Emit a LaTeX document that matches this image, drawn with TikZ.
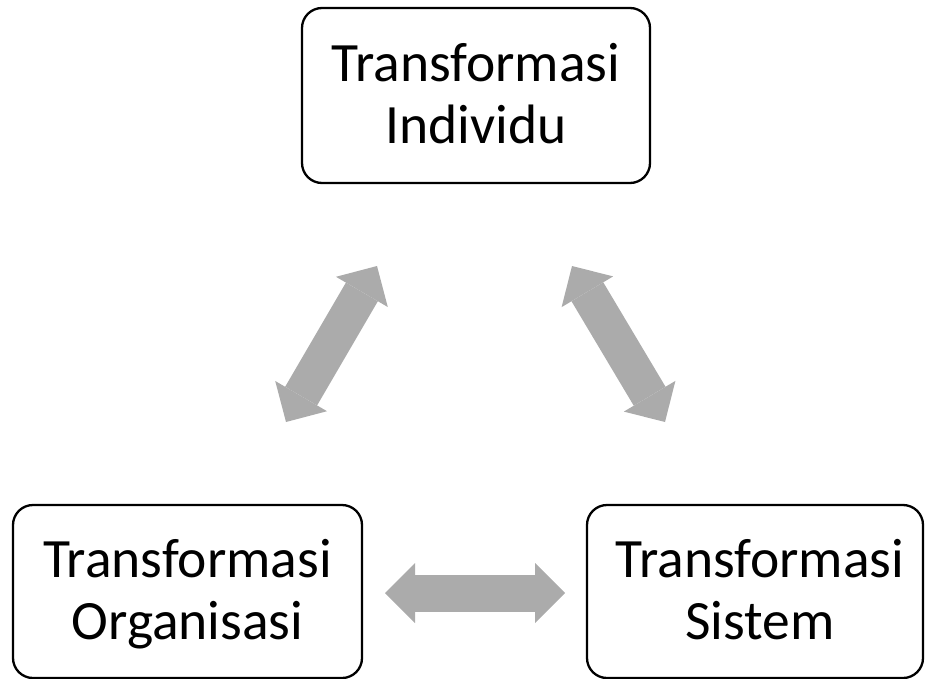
\documentclass[tikz,border=0pt]{standalone}
\usepackage{fontspec}
\setmainfont{Carlito}
\usetikzlibrary{arrows.meta}
\definecolor{arrowgray}{RGB}{171,171,171}
\begin{document}
\begin{tikzpicture}[x=1pt,y=-1pt,
  tbox/.style={draw=black, line width=2.3pt, rounded corners=20pt, inner sep=0pt,
    align=center, font=\fontsize{55.5}{62}\selectfont, text height=100pt, text depth=4pt},
  blockarrow/.style={draw=arrowgray, line width=37pt,
    {Triangle[length=30pt,width=60pt,line width=0pt,color=arrowgray]}-{Triangle[length=30pt,width=60pt,line width=0pt,color=arrowgray]}}
]
\useasboundingbox (0,0) rectangle (925,679);
\node[tbox, minimum width=348pt, minimum height=175pt] (ind) at (476,95.5) {Transformasi\\Individu};
\node[tbox, minimum width=349pt, minimum height=173pt] (org) at (187.5,591.5) {Transformasi\\Organisasi};
\node[tbox, minimum width=336pt, minimum height=173pt] (sis) at (755,591.5) {\hspace*{10pt}Transformasi\\\hspace*{10pt}Sistem};
\coordinate (a1) at (286,422);
\coordinate (a2) at (377,266);
\coordinate (b1) at (572,266);
\coordinate (b2) at (665,422);
\coordinate (c1) at (385,593);
\coordinate (c2) at (565,593);
\draw[blockarrow] (a1) -- (a2);
\draw[blockarrow] (b1) -- (b2);
\draw[blockarrow] (c1) -- (c2);
\end{tikzpicture}
\end{document}
